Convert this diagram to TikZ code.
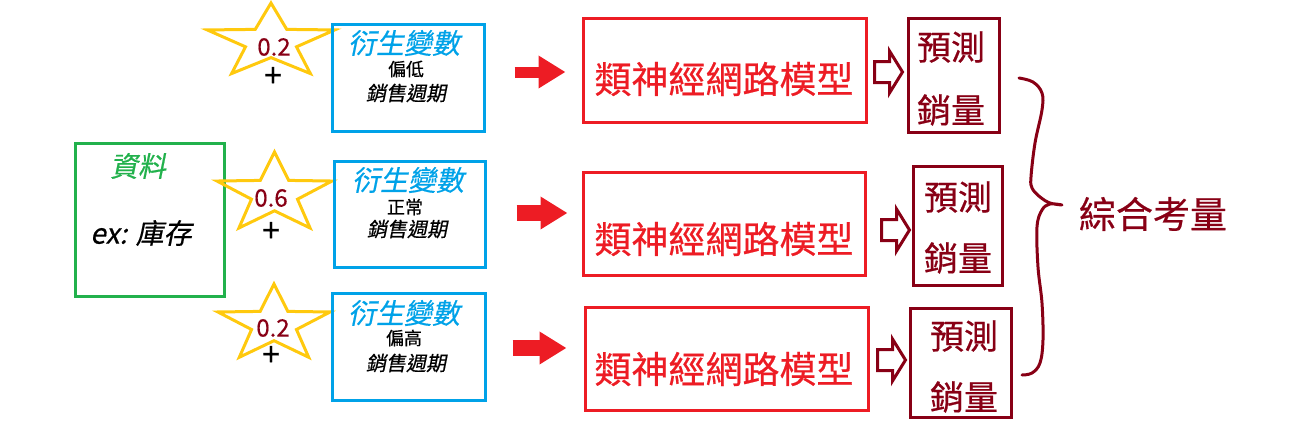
\documentclass[tikz,border=0pt]{standalone}
\usepackage{fontspec}
\setmainfont[FakeBold=0.5]{Noto Sans CJK TC}
\newfontfamily\slantfont[FakeSlant=0.2,FakeBold=0.5]{Noto Sans CJK TC}
\usepackage{tikz}
\usetikzlibrary{arrows.meta,calc,positioning}
\usepackage{xcolor}
\definecolor{dataGreen}{RGB}{34,177,76}
\definecolor{varBlue}{RGB}{0,162,232}
\definecolor{netRed}{RGB}{237,28,36}
\definecolor{darkRed}{RGB}{136,0,21}
\definecolor{starYellow}{RGB}{255,201,14}

\newcommand{\drawstar}[3]{%
  \draw[starline] ($(#1)+(0,{-#3})$)
    \foreach \k [evaluate=\k as \f using {1-0.6*mod(\k,2)}] in {1,...,9}
      { -- ($(#1)+({#2*\f*cos(270+36*\k)},{#3*\f*sin(270+36*\k)})$) } -- cycle;}

\begin{document}
\begin{tikzpicture}[x=0.5pt,y=-0.5pt,
                box/.style={draw,line width=1.5pt,inner sep=0pt},
                databox/.style={box,draw=dataGreen,minimum width=74.5pt,minimum height=76.5pt},
                varbox/.style={box,draw=varBlue,minimum width=76pt,minimum height=53.5pt},
                netbox/.style={box,draw=netRed,minimum width=141.5pt,minimum height=52pt},
                predbox/.style={box,draw=darkRed,minimum width=45.5pt,minimum height=57pt},
                starline/.style={draw=starYellow,line width=1.5pt,line join=miter},
                txt/.style={inner sep=0pt},
                datatitle/.style={txt,text=dataGreen,font=\slantfont\fontsize{14pt}{16pt}\selectfont},
                datatext/.style={txt,font=\slantfont\fontsize{14pt}{16pt}\selectfont},
                weight/.style={txt,text=darkRed,font=\fontsize{12pt}{14pt}\selectfont},
                plus/.style={txt,font=\fontsize{16pt}{18pt}\selectfont},
                vartitle/.style={txt,text=varBlue,font=\slantfont\fontsize{14pt}{16pt}\selectfont},
                varlevel/.style={txt,font=\fontsize{9pt}{11pt}\selectfont},
                varname/.style={txt,font=\slantfont\fontsize{10pt}{12pt}\selectfont},
                nettext/.style={txt,text=netRed,font=\fontsize{18.5pt}{20pt}\selectfont},
                predtext/.style={txt,text=darkRed,font=\fontsize{17pt}{19pt}\selectfont},
                sumtext/.style={txt,text=darkRed,font=\fontsize{18.5pt}{20pt}\selectfont},
                netarrow/.style={draw=netRed,line width=8pt,-{Triangle[length=13.5pt,width=15.5pt]}},
                hollowarrow/.pic={\draw[darkRed,line width=1.5pt,line join=miter]
                    (0,0) -- (-13,-21) -- (-13,-10.5) -- (-28,-10.5) -- (-28,10.5) -- (-13,10.5) -- (-13,21) -- cycle;}
            ]
                \useasboundingbox (0,0) rectangle (1298,424);

                \node[databox] (data) at (150,220) {};
                \node[datatitle] (dataT) at (138,166) {資料};
                \node[datatext] (dataX) at (141,233) {ex: 庫存};

                \coordinate (s1) at (271,42);
                \coordinate (s2) at (274.5,194);
                \coordinate (s3) at (274,324.5);
                \drawstar{s1}{67}{39}
                \drawstar{s2}{60.5}{42}
                \drawstar{s3}{59}{40.5}
                \node[weight] (w1) at (274,47) {0.2};
                \node[plus] (plus1) at (273,77) {+};
                \node[weight] (w2) at (271,198) {0.6};
                \node[plus] (plus2) at (271,232) {+};
                \node[weight] (w3) at (273,328) {0.2};
                \node[plus] (plus3) at (271,356) {+};

                \node[varbox] (v1) at (408.5,78) {};
                \node[vartitle] (v1T) at (404,43) {衍生變數};
                \node[varlevel] (v1L) at (406,69) {偏低};
                \node[varname] (v1N) at (406,93) {銷售週期};
                \node[varbox,minimum width=75.5pt,minimum height=53pt] (v2) at (410,214.5) {};
                \node[vartitle] (v2T) at (408,180) {衍生變數};
                \node[varlevel] (v2L) at (405,207) {正常};
                \node[varname] (v2N) at (407,229) {銷售週期};
                \node[varbox,minimum width=76.5pt] (v3) at (409,347) {};
                \node[vartitle] (v3T) at (404,313) {衍生變數};
                \node[varlevel] (v3L) at (404,338) {偏高};
                \node[varname] (v3N) at (406,363) {銷售週期};

                \node[netbox] (n1) at (725,70.5) {};
                \node[nettext] (n1T) at (724,79) {類神經網路模型};
                \node[netbox,minimum width=141pt,minimum height=51.5pt] (n2) at (724.5,224) {};
                \node[nettext] (n2T) at (724,239) {類神經網路模型};
                \node[netbox,minimum height=51.5pt] (n3) at (727,359) {};
                \node[nettext] (n3T) at (724,369) {類神經網路模型};

                \draw[netarrow,line width=5.5pt] ($(n1.west)+(-67.5,1.5)$) -- ($(n1.west)+(-16.5,1.5)$);
                \draw[netarrow] ($(n2.west)+(-65.5,-11)$) -- ($(n2.west)+(-14.5,-11)$);
                \draw[netarrow] ($(n3.west)+(-71.5,-11)$) -- ($(n3.west)+(-17.5,-11)$);

                \node[predbox] (p1) at (954,75.5) {};
                \node[predtext] (p1a) at (951,47) {預測};
                \node[predtext] (p1b) at (951,110) {銷量};
                \node[predbox,minimum width=44.5pt,minimum height=59.5pt] (p2) at (958,226) {};
                \node[predtext] (p2a) at (958,197) {預測};
                \node[predtext] (p2b) at (958,258) {銷量};
                \node[predbox,minimum width=50.5pt,minimum height=54.5pt] (p3) at (961,363) {};
                \node[predtext] (p3a) at (964,336) {預測};
                \node[predtext] (p3b) at (964,397) {銷量};

                \pic at ($(p1.west)+(-4.5,-3.5)$) {hollowarrow};
                \pic at ($(p2.west)+(-2.5,4)$) {hollowarrow};
                \pic at ($(p3.west)+(-3.5,-3)$) {hollowarrow};

                \draw[darkRed,line width=1.5pt,line cap=round,line join=round]
                    plot[smooth,tension=0.6] coordinates {(1019,78) (1033,82) (1042,93) (1042,110) (1035,143) (1031,177) (1032,188) (1040,197) (1050,203) (1062,205)}
                    plot[smooth,tension=0.6] coordinates {(1062,205) (1050,204) (1042,210) (1037,227) (1038,267) (1042,303) (1043,340) (1040,363) (1032,373) (1022,375)};
                \node[sumtext] (sum) at (1153,214) {綜合考量};
            \end{tikzpicture}
\end{document}
